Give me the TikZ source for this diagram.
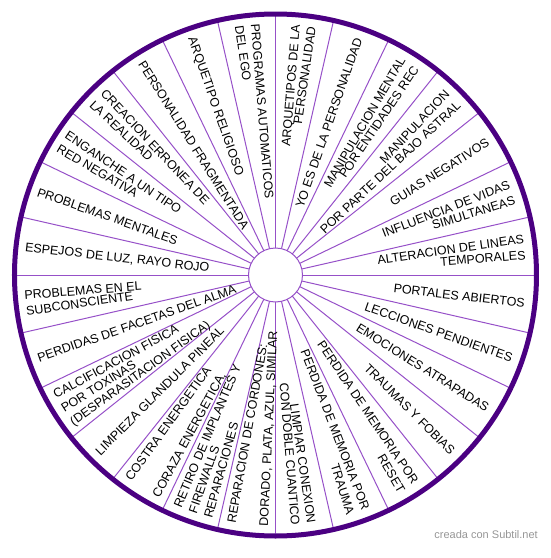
\documentclass[tikz,border=0pt]{standalone}
\usepackage{fontspec}
\setmainfont{Liberation Sans}
\definecolor{ringpurple}{RGB}{75,0,130}
\definecolor{spokepurple}{RGB}{150,80,200}
\definecolor{creditgray}{RGB}{150,150,150}
\begin{document}
\begin{tikzpicture}[x=1pt, y=1pt,
        ring/.style={draw=ringpurple, line width=5pt},
        spoke/.style={draw=spokepurple, line width=1pt},
        hub/.style={draw=spokepurple, line width=1pt, fill=white},
        wtext/.style={inner sep=0pt, font=\fontsize{12.5}{12.5}\selectfont, text height=8.9pt, text depth=0pt}]
    \useasboundingbox (-275.5,-283) rectangle (274.5,275);

    % Spokes (28 sectors)
    \foreach \k in {0,...,27}
        \draw[spoke] ({90-\k*360/28}:27) -- ({90-\k*360/28}:261);

    % Outer ring and hub
    \draw[ring] (0,0) circle (261);
    \draw[hub] (0,0) circle (27);

    % Sector labels: sector / line / lines / text
    \foreach \sct/\lnr/\lns/\txt in {
            0/1/2/ARQUETIPOS DE LA, 0/2/2/PERSONALIDAD,
            1/1/1/YO ES DE LA PERSONALIDAD,
            2/1/2/MANIPULACION MENTAL, 2/2/2/POR ENTIDADES REC,
            3/1/2/MANIPULACION, 3/2/2/POR PARTE DEL BAJO ASTRAL,
            4/1/1/GUIAS NEGATIVOS,
            5/1/2/INFLUENCIA DE VIDAS, 5/2/2/SIMULTANEAS,
            6/1/2/ALTERACION DE LINEAS, 6/2/2/TEMPORALES,
            7/1/1/PORTALES ABIERTOS,
            8/1/1/LECCIONES PENDIENTES,
            9/1/1/EMOCIONES ATRAPADAS,
            10/1/1/TRAUMAS Y FOBIAS,
            11/1/2/PERDIDA DE MEMORIA POR, 11/2/2/RESET,
            12/1/2/PERDIDA DE MEMORIA POR, 12/2/2/TRAUMA,
            13/1/2/LIMPIAR CONEXION, 13/2/2/CON DOBLE CUANTICO,
            14/1/3/REPARACION DE CORDONES:, 14/3/3/{DORADO, PLATA, AZUL, SIMILAR},
            15/1/3/RETIRO DE IMPLANTES Y, 15/2/3/FIREWALLS, 15/3/3/REPARACIONES,
            16/1/3/COSTRA ENERGETICA, 16/3/3/{CORAZA ENERGETICA,},
            17/1/1/LIMPIEZA GLANDULA PINEAL,
            18/1/3/CALCIFICACION FISICA, 18/2/3/POR TOXINAS, 18/3/3/(DESPARASITACION FISICA),
            19/1/1/PERDIDAS DE FACETAS DEL ALMA,
            20/1/2/PROBLEMAS EN EL, 20/2/2/SUBCONSCIENTE,
            21/1/1/{ESPEJOS DE LUZ, RAYO ROJO},
            22/1/1/PROBLEMAS MENTALES,
            23/1/2/ENGANCHE A UN TIPO, 23/2/2/RED NEGATIVA,
            24/1/2/CREACION ERRONEA DE, 24/2/2/LA REALIDAD,
            25/1/1/PERSONALIDAD FRAGMENTADA,
            26/1/1/ARQUETIPO RELIGIOSO,
            27/1/2/PROGRAMAS AUTOMATICOS, 27/2/2/DEL EGO} {
        \pgfmathsetmacro{\bis}{90-360/28*(\sct+0.5)}
        \pgfmathsetmacro{\off}{((\lns+1)/2-\lnr)*3.7}
        \pgfmathtruncatemacro{\rside}{cos(\bis)>0}
        \ifnum\rside=1
            \pgfmathsetmacro{\ang}{\bis+\off}
            \node[wtext, anchor=east, rotate=\ang] (lbl-\sct-\lnr) at (\ang:251) {\txt};
        \else
            \pgfmathsetmacro{\ang}{\bis-\off}
            \node[wtext, anchor=west, rotate=\ang+180] (lbl-\sct-\lnr) at (\ang:252) {\txt};
        \fi
    }

    % Credit line
    \node[anchor=base east, inner sep=0pt, font=\fontsize{11}{11}\selectfont, text=creditgray] (credit) at (262.5,-263) {creada con Subtil.net};
\end{tikzpicture}
\end{document}
